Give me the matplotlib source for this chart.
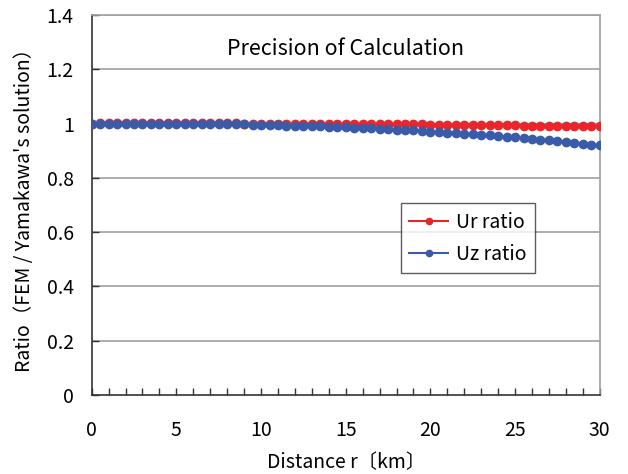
import matplotlib
matplotlib.use("Agg")
import matplotlib.pyplot as plt
import numpy as np

plt.rcParams['font.family'] = ['Noto Sans CJK JP', 'DejaVu Sans']

distance = [i * 0.5 for i in range(61)]

ur_ratio = [1.000, 1.003, 1.003, 1.003, 1.003, 1.003, 1.003, 1.003, 1.003, 1.003,
            1.003, 1.003, 1.003, 1.003, 1.003, 1.003, 1.003, 1.001, 1.000, 1.000,
            1.000, 1.000, 1.000, 0.999, 0.999, 0.999, 0.999, 0.999, 0.999, 0.999,
            0.999, 0.999, 0.999, 0.999, 0.999, 0.998, 0.998, 0.998, 0.998, 0.997,
            0.996, 0.996, 0.996, 0.996, 0.996, 0.996, 0.996, 0.995, 0.995, 0.995,
            0.994, 0.993, 0.992, 0.992, 0.992, 0.992, 0.992, 0.992, 0.992, 0.991,
            0.991]

uz_ratio = [1.000, 1.000, 1.000, 1.000, 1.000, 1.000, 1.000, 1.000, 1.000, 1.000,
            1.000, 1.000, 1.000, 1.000, 1.000, 0.999, 0.998, 0.997, 0.997, 0.996,
            0.996, 0.995, 0.994, 0.993, 0.993, 0.992, 0.991, 0.990, 0.989, 0.988,
            0.986, 0.985, 0.984, 0.983, 0.981, 0.980, 0.978, 0.977, 0.975, 0.973,
            0.971, 0.969, 0.967, 0.965, 0.963, 0.961, 0.959, 0.957, 0.954, 0.952,
            0.949, 0.946, 0.944, 0.941, 0.938, 0.935, 0.932, 0.929, 0.926, 0.923,
            0.920]

x_ticks = [0, 5, 10, 15, 20, 25, 30]
y_ticks = [0, 0.2, 0.4, 0.6, 0.8, 1.0, 1.2, 1.4]
y_tick_labels = ['0', '0.2', '0.4', '0.6', '0.8', '1', '1.2', '1.4']

fig = plt.figure(figsize=(6.28, 4.74), dpi=100)
ax = fig.add_axes([0.146, 0.167, 0.809, 0.801])

for yv in y_ticks[1:]:
    ax.axhline(yv, color='#a0a0a0', lw=1.2, zorder=0)

ax.plot(distance, ur_ratio, color='#e8262c', marker='o', ms=6, lw=1.5,
        label='Ur ratio', zorder=3)
ax.plot(distance, uz_ratio, color='#3a5ca8', marker='o', ms=6, lw=1.5,
        label='Uz ratio', zorder=4)

ax.set_xlim(0, 30)
ax.set_ylim(0, 1.4)
ax.set_xticks(x_ticks)
ax.set_xticks(np.arange(0, 31, 1), minor=True)
ax.set_yticks(y_ticks)
ax.set_yticklabels(y_tick_labels)
ax.tick_params(axis='x', which='both', direction='in', length=5, width=1,
               color='#333333', labelsize=14, pad=18, top=False)
ax.tick_params(axis='y', which='both', direction='in', length=5, width=1,
               color='#333333', labelsize=14, pad=13, right=False)

ax.spines['left'].set_color('#333333')
ax.spines['bottom'].set_color('#333333')
ax.spines['right'].set_color('#a0a0a0')
ax.spines['top'].set_color('#a0a0a0')
for s in ax.spines.values():
    s.set_linewidth(1.2)

ax.set_xlabel('Distance r〔km〕', fontsize=14, labelpad=8)
ax.set_ylabel('Ratio（FEM / Yamakawa\'s solution）', fontsize=14, labelpad=8)

ax.text(15, 1.275, 'Precision of Calculation', fontsize=15.5, ha='center', va='center')

leg = ax.legend(loc='upper left', bbox_to_anchor=(0.608, 0.505), fontsize=14,
                frameon=True, fancybox=False, edgecolor='#333333',
                handlelength=2.0, markerscale=0.75, borderpad=0.45,
                labelspacing=0.55, borderaxespad=0, handletextpad=0.4)
leg.get_frame().set_linewidth(1.0)

fig.savefig('out.png', dpi=100)
